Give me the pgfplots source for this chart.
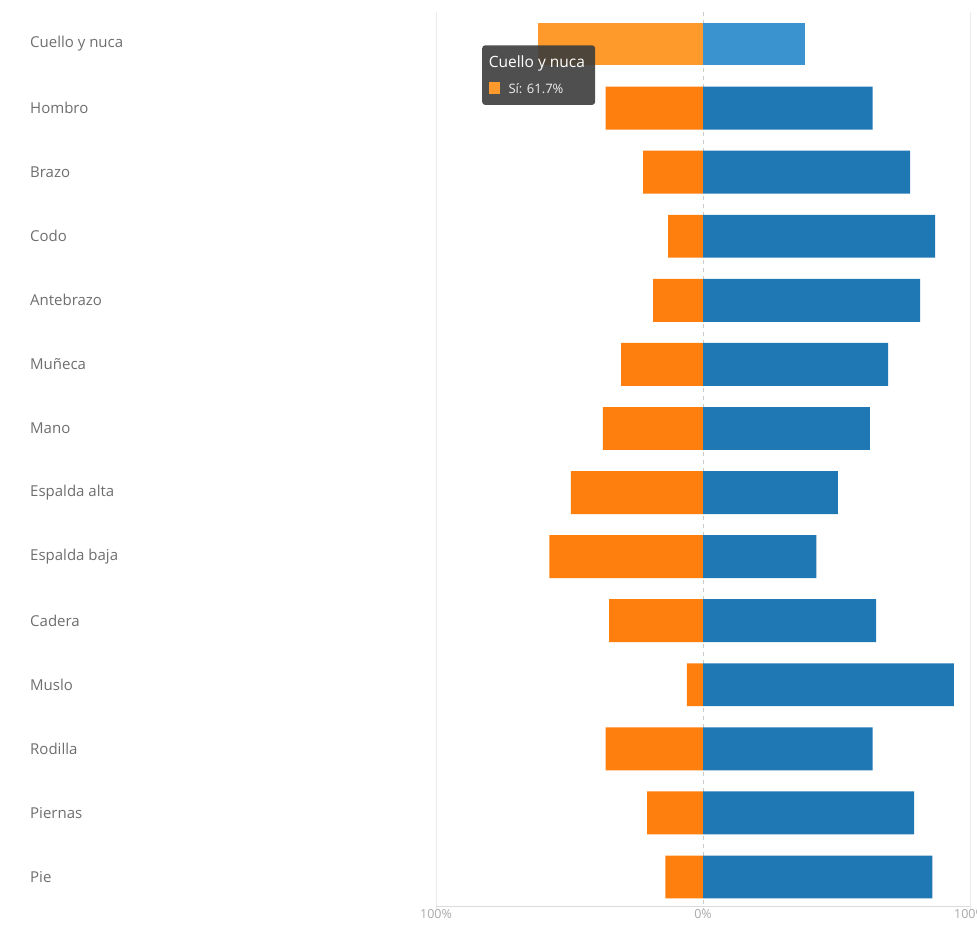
\documentclass[border=0pt]{standalone}
\usepackage{fontspec}
\setmainfont{Open Sans}
\usepackage{pgfplots}
\pgfplotsset{compat=1.18}

\definecolor{siorange}{HTML}{FF7F0E}
\definecolor{noblue}{HTML}{1F77B4}
\definecolor{hiorange}{HTML}{FD9A2B}
\definecolor{hiblue}{HTML}{3A92CF}
\definecolor{labelgray}{HTML}{6E6E6E}
\definecolor{tickgray}{HTML}{A8A8A8}
\definecolor{gridgray}{HTML}{EBEBEB}
\definecolor{tipgray}{HTML}{3C3C3C}

\begin{document}
\begin{tikzpicture}[x=1pt,y=1pt]
\path[use as bounding box] (0,0) rectangle (977,928);
\begin{axis}[
    at={(436pt,19pt)}, anchor=south west,
    scale only axis, width=534pt, height=897pt,
    xmin=-100, xmax=100,
    ymin=-0.5, ymax=13.5, y dir=reverse,
    xbar, bar width=0.67,
    axis line style={draw=none},
    major tick length=0pt,
    xtick={-100,100}, xticklabels={100\%,100\%},
    extra x ticks={0}, extra x tick labels={0\%},
    extra x tick style={grid style={gridgray!70!gray, dashed, dash pattern=on 4pt off 4pt, line width=0.6pt}},
    xmajorgrids, grid style={gridgray, line width=0.8pt},
    xticklabel style={font=\fontsize{12.5}{14}\selectfont, text=tickgray, inner sep=0pt, yshift=0pt},
    ytick={0,...,13},
    yticklabels={Cuello y nuca,Hombro,Brazo,Codo,Antebrazo,Muñeca,Mano,Espalda alta,Espalda baja,Cadera,Muslo,Rodilla,Piernas,Pie},
    yticklabel style={font=\fontsize{15}{17}\selectfont, text=labelgray, anchor=west, inner sep=0pt, xshift=-406pt},
    clip=false,
]
% Sí (izquierda, negativo)
\addplot[xbar, bar shift=0pt, fill=siorange, draw=none] coordinates {
    (-36.5,1) (-22.4,2) (-13.1,3) (-18.7,4) (-30.7,5) (-37.5,6)
    (-49.5,7) (-57.5,8) (-35.2,9) (-6.0,10) (-36.5,11) (-20.9,12) (-14.1,13)
};
\addplot[xbar, bar shift=0pt, fill=hiorange, draw=none] coordinates {(-61.7,0)};
% No (derecha, positivo)
\addplot[xbar, bar shift=0pt, fill=noblue, draw=none] coordinates {
    (63.5,1) (77.6,2) (86.9,3) (81.3,4) (69.3,5) (62.5,6)
    (50.5,7) (42.5,8) (64.8,9) (94.0,10) (63.5,11) (79.1,12) (85.9,13)
};
\addplot[xbar, bar shift=0pt, fill=hiblue, draw=none] coordinates {(38.3,0)};
% línea base
\draw[gridgray!85!gray, line width=0.8pt] (axis cs:-100,13.453) -- (axis cs:100,13.453);
% tooltip
\fill[tipgray, opacity=0.9, rounded corners=3pt] (axis cs:-82.7,0.02) rectangle (axis cs:-40.4,0.95);
\node[anchor=west, inner sep=0pt, text=white, font=\fontsize{15.5}{17}\selectfont] at (axis cs:-80.3,0.30) {Cuello y nuca};
\fill[hiorange] (axis cs:-80.2,0.59) rectangle (axis cs:-75.9,0.78);
\node[anchor=west, inner sep=0pt, text=white!88!gray, font=\fontsize{13}{15}\selectfont] at (axis cs:-72.9,0.69) {Sí: 61.7\%};
\end{axis}
\end{tikzpicture}
\end{document}
